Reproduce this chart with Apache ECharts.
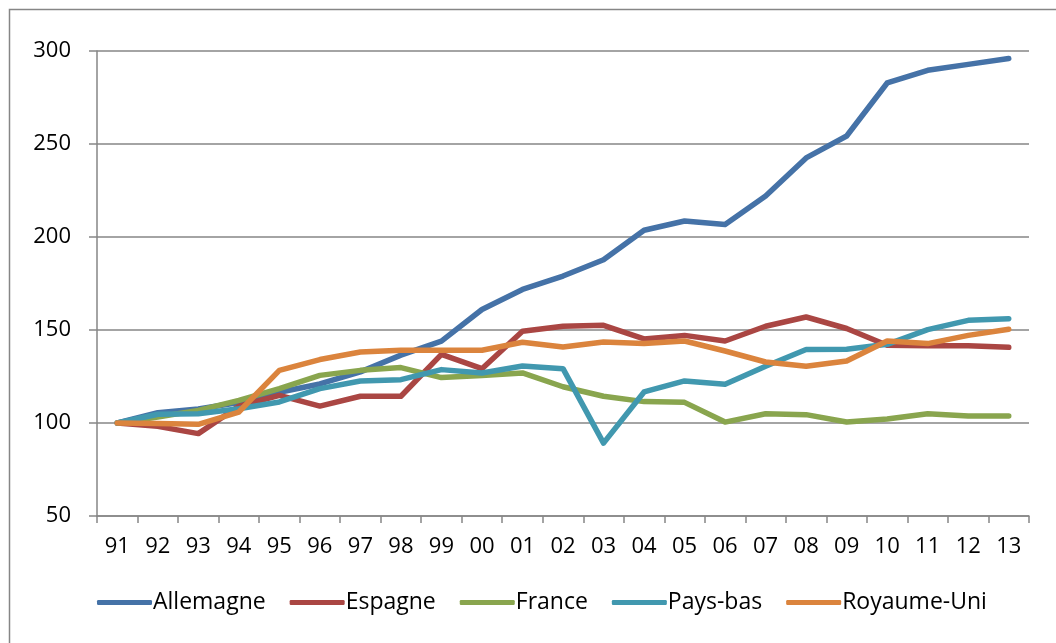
<!DOCTYPE html>
<html>
<head>
<meta charset="utf-8">
<script src="https://cdn.jsdelivr.net/npm/echarts@6/dist/echarts.min.js"></script>
<style>html,body{margin:0;padding:0;background:#fff}#c{width:1056px;height:643px}</style>
</head>
<body>
<div id="c"></div>
<script>
var categories = ['91','92','93','94','95','96','97','98','99','00','01','02','03','04','05','06','07','08','09','10','11','12','13'];
var allemagne = [100,105.5,107.5,111,116.5,121,127.5,136.5,144,161,171.8,179,187.8,203.6,208.6,206.7,222,242.5,254.3,282.8,289.6,292.8,296];
var espagne = [100,98.2,94.3,109,114.9,109.1,114.4,114.4,136.9,129.2,149.3,152,152.5,145.2,147.1,144.1,152,157,150.8,141.8,141.5,141.5,140.7];
var france = [100,103.2,106.8,112.2,118.5,125.6,128.3,129.8,124.4,125.5,126.9,119.5,114.4,111.5,111.1,100.5,105,104.5,100.5,102.2,105,103.8,103.8];
var paysBas = [100,104.7,105,107.7,111.3,118.5,122.6,123.3,128.7,126.9,130.6,129.2,89.2,116.7,122.6,120.8,130.5,139.5,139.6,142.3,150.2,155.2,156.1];
var royaumeUni = [100,99.7,99.3,105.9,128.3,134.1,138.2,139.1,139.1,139.1,143.4,140.9,143.6,142.7,144.1,138.7,132.8,130.5,133.3,144.1,142.7,147.1,150.4];
var seriesNames = ['Allemagne','Espagne','France','Pays-bas','Royaume-Uni'];
var yTicks = [50,100,150,200,250,300];

var colors = ['#4572A7','#AA4643','#89A54E','#4198AF','#DB843D'];
var dataSets = [allemagne, espagne, france, paysBas, royaumeUni];
var FONT = '"Open Sans", sans-serif';
var chart = echarts.init(document.getElementById('c'));
chart.setOption({
  animation: false,
  color: colors,
  graphic: [{
    type: 'rect', left: 7, top: 7, z: -1,
    shape: {width: 1200, height: 800},
    style: {fill: 'none', stroke: '#868686', lineWidth: 1.5}
  }],
  grid: {left: 97, right: 27, top: 51, bottom: 127, containLabel: false},
  legend: {
    left: 92, top: 586,
    itemWidth: 55, itemHeight: 5, itemGap: 24,
    icon: 'roundRect',
    textStyle: {fontFamily: FONT, fontSize: 23, color: '#000', padding: [0,0,0,-4]},
    data: seriesNames
  },
  xAxis: {
    type: 'category', data: categories, boundaryGap: true,
    axisLine: {lineStyle: {color: '#868686', width: 1.5}},
    axisTick: {show: true, length: 7, lineStyle: {color: '#868686', width: 1.5}},
    axisLabel: {fontFamily: FONT, fontSize: 22, color: '#000', margin: 20, interval: 0},
    splitLine: {show: false}
  },
  yAxis: {
    type: 'value', min: yTicks[0], max: yTicks[yTicks.length-1], interval: 50,
    axisLine: {show: true, lineStyle: {color: '#868686', width: 1.5}},
    axisTick: {show: true, length: 8, lineStyle: {color: '#868686', width: 1.5}},
    axisLabel: {fontFamily: FONT, fontSize: 22, color: '#000', margin: 26},
    splitLine: {show: true, lineStyle: {color: '#868686', width: 1.5}}
  },
  series: seriesNames.map(function(n, i){
    return {
      name: n, type: 'line', data: dataSets[i],
      symbol: 'none', smooth: false,
      lineStyle: {width: 5.5, cap: 'round', join: 'round', color: colors[i]},
      itemStyle: {color: colors[i]}
    };
  })
});
</script>
</body>
</html>
